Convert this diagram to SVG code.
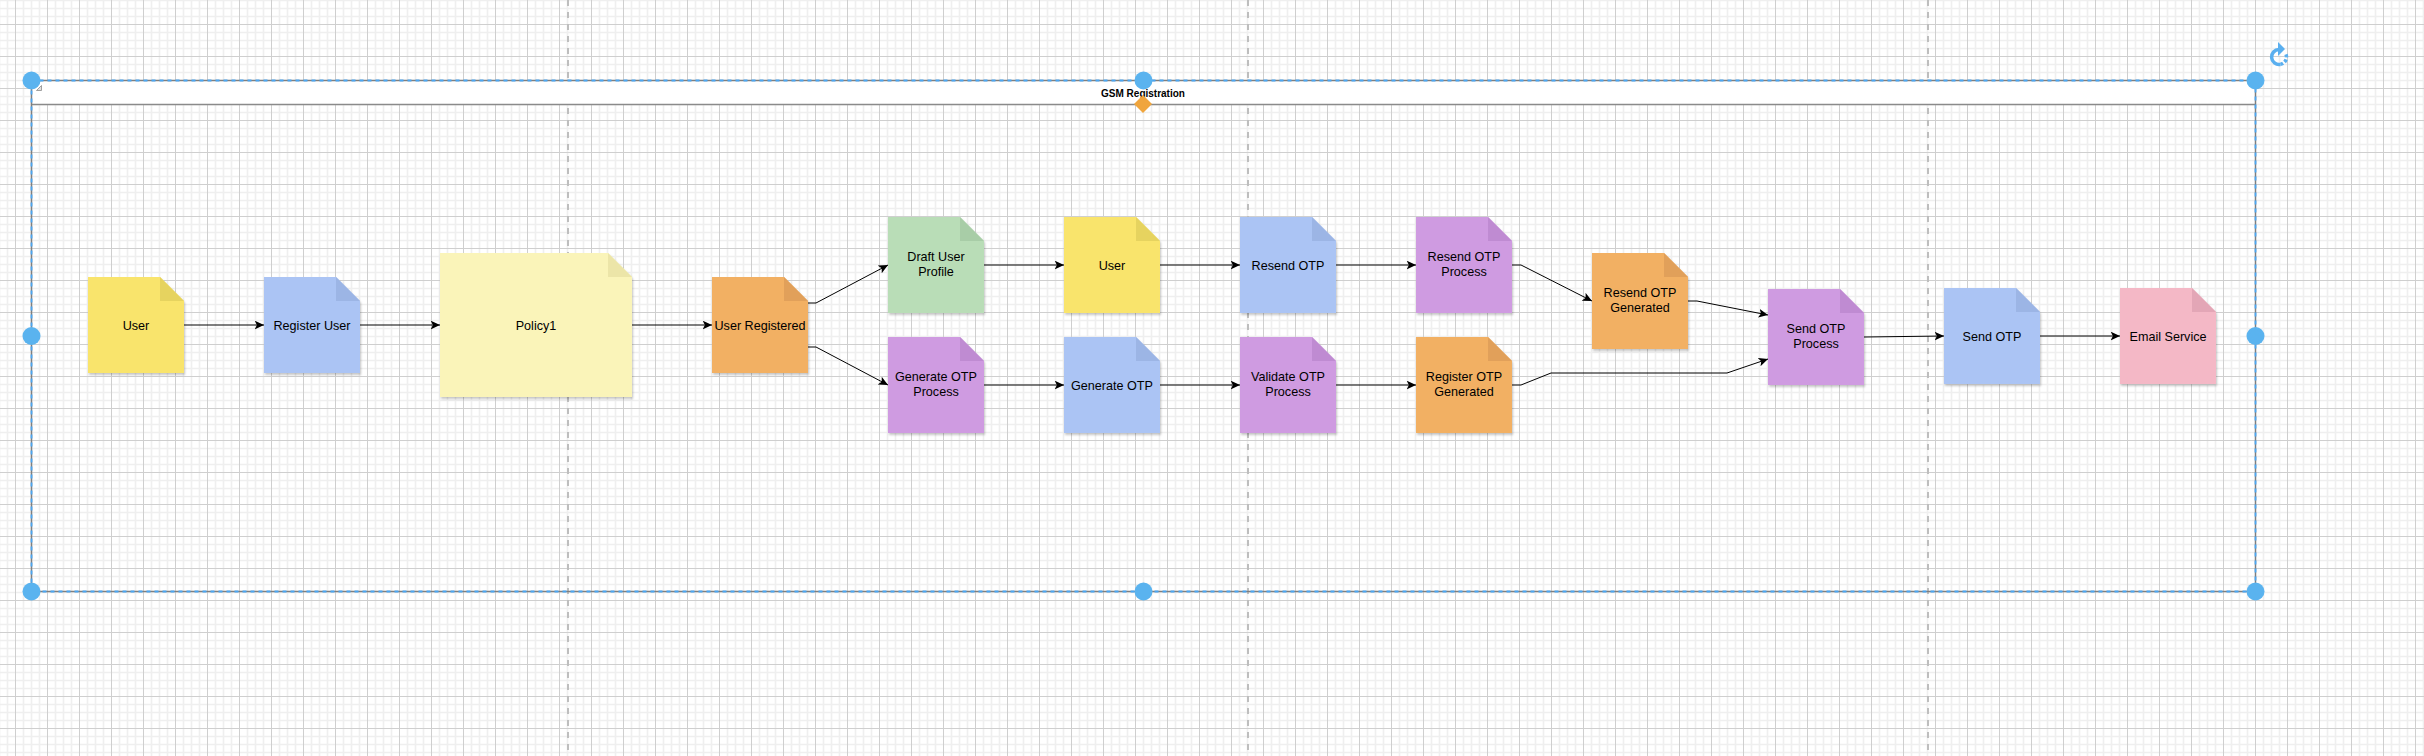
<svg xmlns="http://www.w3.org/2000/svg" width="2424" height="756" viewBox="0 0 2424 756">
<style>
text{font-family:"Liberation Sans",Arial,sans-serif;font-size:12.6px;fill:#000;text-anchor:middle}
.title{font-size:10px;font-weight:bold}
.edge{fill:none;stroke:#000;stroke-width:1}
.shd{filter:url(#sh)}
.yel .b{fill:#F9E46C}.yel .f{fill:#E6D35F}
.lyel .b{fill:#FAF4B9}.lyel .f{fill:#ECE5A8}
.blu .b{fill:#ABC4F4}.blu .f{fill:#9CB5E5}
.org .b{fill:#F2B064}.org .f{fill:#E1A05A}
.grn .b{fill:#B9DDB7}.grn .f{fill:#A8CDA7}
.pur .b{fill:#CF9BE1}.pur .f{fill:#BF8BD2}
.pnk .b{fill:#F4B8C6}.pnk .f{fill:#E3A6B6}
.handle{fill:#5AB3EF}
.pb{stroke:#BEBEBE;stroke-width:2;stroke-dasharray:6 6}
</style>
<defs>
<pattern id="grid" x="15" y="24" width="32" height="32" patternUnits="userSpaceOnUse">
<rect width="32" height="32" fill="#FFFFFF"/>
<path d="M8.5 0V32M16.5 0V32M24.5 0V32M0 8.5H32M0 16.5H32M0 24.5H32" stroke="#EFEFEF" stroke-width="1.6" fill="none"/>
<path d="M0.5 0V32M0 0.5H32" stroke="#CFCFCF" stroke-width="1" fill="none"/>
</pattern>
<filter id="sh" x="-10%" y="-10%" width="130%" height="130%">
<feDropShadow dx="1" dy="2" stdDeviation="1" flood-color="#000" flood-opacity="0.22"/>
</filter>
<marker id="arr" markerUnits="userSpaceOnUse" markerWidth="10" markerHeight="10" viewBox="0 0 8 8" refX="7.5" refY="3.5" orient="auto">
<path d="M0 0L7.5 3.5L0 7L1.8 3.5Z" fill="#000"/>
</marker>
</defs>

<rect width="2424" height="756" fill="url(#grid)"/>
<g id="page-breaks">
<line class="pb" x1="568" y1="0" x2="568" y2="756"/>
<line class="pb" x1="1248" y1="0" x2="1248" y2="756"/>
<line class="pb" x1="1928" y1="0" x2="1928" y2="756"/>
</g>

<g id="container">
<rect x="31.5" y="80.5" width="2224" height="24" fill="#FFFFFF"/>
<line x1="31.5" y1="104.5" x2="2255.5" y2="104.5" stroke="#8A8A8A" stroke-width="1.5"/>
<rect x="31.5" y="80.5" width="2224" height="511" fill="none" stroke="#7F7F7F" stroke-width="1.5"/>
<rect x="31.5" y="80.5" width="2224" height="511" fill="none" stroke="#4AA6F2" stroke-width="1.8" stroke-dasharray="4 4"/>
<text class="title" x="1143" y="96.5">GSM Registration</text>
<path d="M36.5 90.5L41.5 85.5V90.5Z" fill="#E2E2E2" stroke="#8C8C8C" stroke-width="0.8"/>
</g>

<g id="connectors">
<path class="edge" marker-end="url(#arr)" d="M184 325H264"/>
<path class="edge" marker-end="url(#arr)" d="M360 325H440"/>
<path class="edge" marker-end="url(#arr)" d="M632 325H712"/>
<path class="edge" marker-end="url(#arr)" d="M808 303H816L888 265"/>
<path class="edge" marker-end="url(#arr)" d="M808 347H816L888 385"/>
<path class="edge" marker-end="url(#arr)" d="M984 265H1064"/>
<path class="edge" marker-end="url(#arr)" d="M1160 265H1240"/>
<path class="edge" marker-end="url(#arr)" d="M1336 265H1416"/>
<path class="edge" marker-end="url(#arr)" d="M984 385H1064"/>
<path class="edge" marker-end="url(#arr)" d="M1160 385H1240"/>
<path class="edge" marker-end="url(#arr)" d="M1336 385H1416"/>
<path class="edge" marker-end="url(#arr)" d="M1512 265H1521L1592 301"/>
<path class="edge" marker-end="url(#arr)" d="M1688 301H1697L1768 315"/>
<path class="edge" marker-end="url(#arr)" d="M1512 385H1521L1551 373H1727L1768 359"/>
<path class="edge" marker-end="url(#arr)" d="M1864 337L1944 336"/>
<path class="edge" marker-end="url(#arr)" d="M2040 336H2120"/>
</g>

<g id="n-user1" class="yel">
<path class="b shd" d="M88 277H160L184 301V373H88Z"/><path class="f" d="M160 277L184 301H160Z"/>
<text x="136" y="329.5">User</text>
</g>
<g id="n-register-user" class="blu">
<path class="b shd" d="M264 277H336L360 301V373H264Z"/><path class="f" d="M336 277L360 301H336Z"/>
<text x="312" y="329.5">Register User</text>
</g>
<g id="n-policy1" class="lyel">
<path class="b shd" d="M440 253H608L632 277V397H440Z"/><path class="f" d="M608 253L632 277H608Z"/>
<text x="536" y="329.5">Policy1</text>
</g>
<g id="n-user-registered" class="org">
<path class="b shd" d="M712 277H784L808 301V373H712Z"/><path class="f" d="M784 277L808 301H784Z"/>
<text x="760" y="329.5">User Registered</text>
</g>
<g id="n-draft-user-profile" class="grn">
<path class="b shd" d="M888 217H960L984 241V313H888Z"/><path class="f" d="M960 217L984 241H960Z"/>
<text x="936" y="261.3">Draft User</text><text x="936" y="276">Profile</text>
</g>
<g id="n-user2" class="yel">
<path class="b shd" d="M1064 217H1136L1160 241V313H1064Z"/><path class="f" d="M1136 217L1160 241H1136Z"/>
<text x="1112" y="269.5">User</text>
</g>
<g id="n-resend-otp" class="blu">
<path class="b shd" d="M1240 217H1312L1336 241V313H1240Z"/><path class="f" d="M1312 217L1336 241H1312Z"/>
<text x="1288" y="269.5">Resend OTP</text>
</g>
<g id="n-resend-otp-process" class="pur">
<path class="b shd" d="M1416 217H1488L1512 241V313H1416Z"/><path class="f" d="M1488 217L1512 241H1488Z"/>
<text x="1464" y="261.3">Resend OTP</text><text x="1464" y="276">Process</text>
</g>
<g id="n-generate-otp-process" class="pur">
<path class="b shd" d="M888 337H960L984 361V433H888Z"/><path class="f" d="M960 337L984 361H960Z"/>
<text x="936" y="381.3">Generate OTP</text><text x="936" y="396">Process</text>
</g>
<g id="n-generate-otp" class="blu">
<path class="b shd" d="M1064 337H1136L1160 361V433H1064Z"/><path class="f" d="M1136 337L1160 361H1136Z"/>
<text x="1112" y="389.5">Generate OTP</text>
</g>
<g id="n-validate-otp-process" class="pur">
<path class="b shd" d="M1240 337H1312L1336 361V433H1240Z"/><path class="f" d="M1312 337L1336 361H1312Z"/>
<text x="1288" y="381.3">Validate OTP</text><text x="1288" y="396">Process</text>
</g>
<g id="n-register-otp-generated" class="org">
<path class="b shd" d="M1416 337H1488L1512 361V433H1416Z"/><path class="f" d="M1488 337L1512 361H1488Z"/>
<text x="1464" y="381.3">Register OTP</text><text x="1464" y="396">Generated</text>
</g>
<g id="n-resend-otp-generated" class="org">
<path class="b shd" d="M1592 253H1664L1688 277V349H1592Z"/><path class="f" d="M1664 253L1688 277H1664Z"/>
<text x="1640" y="297.3">Resend OTP</text><text x="1640" y="312">Generated</text>
</g>
<g id="n-send-otp-process" class="pur">
<path class="b shd" d="M1768 289H1840L1864 313V385H1768Z"/><path class="f" d="M1840 289L1864 313H1840Z"/>
<text x="1816" y="333.3">Send OTP</text><text x="1816" y="348">Process</text>
</g>
<g id="n-send-otp" class="blu">
<path class="b shd" d="M1944 288H2016L2040 312V384H1944Z"/><path class="f" d="M2016 288L2040 312H2016Z"/>
<text x="1992" y="340.5">Send OTP</text>
</g>
<g id="n-email-service" class="pnk">
<path class="b shd" d="M2120 288H2192L2216 312V384H2120Z"/><path class="f" d="M2192 288L2216 312H2192Z"/>
<text x="2168" y="340.5">Email Service</text>
</g>

<g id="selection-handles">
<circle class="handle" cx="31.5" cy="80.5" r="9"/>
<circle class="handle" cx="1143.5" cy="80.5" r="9"/>
<circle class="handle" cx="2255.5" cy="80.5" r="9"/>
<circle class="handle" cx="31.5" cy="336" r="9"/>
<circle class="handle" cx="2255.5" cy="336" r="9"/>
<circle class="handle" cx="31.5" cy="591.5" r="9"/>
<circle class="handle" cx="1143.5" cy="591.5" r="9"/>
<circle class="handle" cx="2255.5" cy="591.5" r="9"/>
<path d="M1143 95L1152 104L1143 113L1134 104Z" fill="#F0A53D"/>
<g fill="none" stroke="#5AAFEF" stroke-width="3.5">
<path d="M2279 49.5A7.5 7.5 0 1 0 2280.3 64.4"/>
<path d="M2280.3 64.4A7.5 7.5 0 0 0 2285.5 53.3" stroke-dasharray="3 2"/>
</g>
<path d="M2278 42L2285 49L2278 56Z" fill="#5AAFEF"/>
</g>
</svg>
